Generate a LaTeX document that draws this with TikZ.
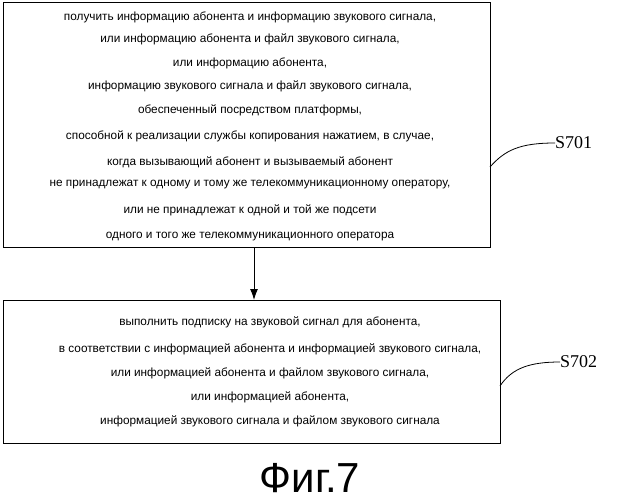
\documentclass[tikz,border=0pt]{standalone}
\usetikzlibrary{arrows.meta}
\usepackage{fontspec}
\setmainfont{Liberation Sans}
\newfontfamily\serifS{Liberation Serif}
\begin{document}
\begin{tikzpicture}[x=1pt,y=-1pt,
  box/.style={draw,line width=1pt},
  ln/.style={font=\fontsize{11.8}{12}\selectfont,inner sep=0pt},
  lab/.style={font=\serifS\fontsize{18}{18}\selectfont,inner sep=0pt}]
\useasboundingbox (0,0) rectangle (620,500);
\draw[box] (3,3) rectangle (490,247);
\draw[box] (3,300) rectangle (500,443);
\coordinate (b1) at (254,247);
\coordinate (b2) at (254,300);
\draw[line width=1pt,-{Latex[length=11pt,width=8pt]}] (b1) -- (b2);
\foreach \y/\t in {17/{получить информацию абонента и информацию звукового сигнала,},
 39/{или информацию абонента и файл звукового сигнала,},
 63/{или информацию абонента,},
 86/{информацию звукового сигнала и файл звукового сигнала,},
 110/{обеспеченный посредством платформы,},
 136/{способной к реализации службы копирования нажатием, в случае,},
 162/{когда вызывающий абонент и вызываемый абонент},
 185/{не принадлежат к одному и тому же телекоммуникационному оператору,},
 210/{или не принадлежат к одной и той же подсети},
 237/{одного и того же телекоммуникационного оператора}}
 \node[ln] at (250,\y) {\t};
\foreach \y/\t in {322/{выполнить подписку на звуковой сигнал для абонента,},
 349/{в соответствии с информацией абонента и информацией звукового сигнала,},
 373/{или информацией абонента и файлом звукового сигнала,},
 397/{или информацией абонента,},
 421/{информацией звукового сигнала и файлом звукового сигнала}}
 \node[ln] at (270,\y) {\t};
\node[lab,anchor=west] (s1) at (555,143) {S701};
\node[lab,anchor=west] (s2) at (560,362) {S702};
\coordinate (c1) at (490,167);
\coordinate (c2) at (500,386);
\draw[line width=0.8pt] (c1) .. controls (505,150) and (520,143) .. (s1.west);
\draw[line width=0.8pt] (c2) .. controls (512,368) and (530,362) .. (s2.west);
\node[inner sep=0pt,font=\fontsize{42}{44}\selectfont] (fig) at (310,478) {Фиг.7};
\end{tikzpicture}
\end{document}
